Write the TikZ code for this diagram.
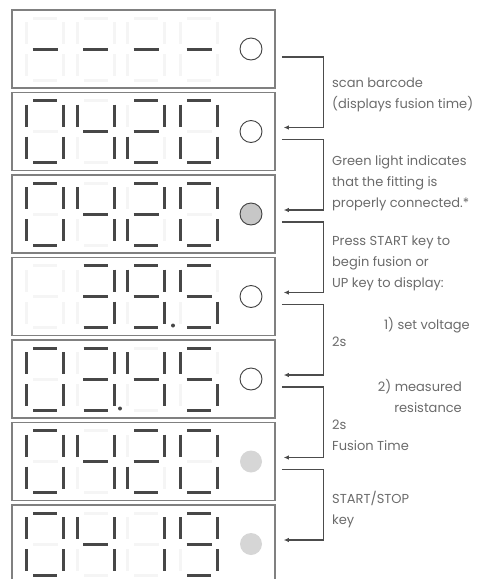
\documentclass[tikz,border=0pt]{standalone}
\usepackage{fontspec}
\setmainfont{Poppins}
\usetikzlibrary{arrows.meta}

% seven segment geometry, relative to the digit centre
\newcommand{\defseg}[2]{\expandafter\def\csname seg-#1\endcsname{#2}}
\defseg{a}{(-12,-31) -- (12,-31)}
\defseg{b}{(18.5,-27) -- (18.5,-5)}
\defseg{c}{(18.5,5) -- (18.5,27)}
\defseg{d}{(-12,31) -- (12,31)}
\defseg{e}{(-18.5,5) -- (-18.5,27)}
\defseg{f}{(-18.5,-27) -- (-18.5,-5)}
\defseg{g}{(-12.5,0) -- (12.5,0)}
\defseg{n}{(0,0)}
% lit segments of each symbol
\newcommand{\deflit}[2]{\expandafter\def\csname lit-#1\endcsname{#2}}
\deflit{0}{a,b,c,d,e,f}
\deflit{1}{b,c}
\deflit{2}{a,b,g,e,d}
\deflit{3}{a,b,g,c,d}
\deflit{4}{f,g,b,c}
\deflit{5}{a,f,g,c,d}
\deflit{9}{a,b,c,d,f,g}
\deflit{-}{g}
\deflit{x}{n}

\newcommand{\sevenseg}[3]{%
  \begin{scope}[shift={(#1,#2)}]
    \foreach \s in {a,b,c,d,e,f,g} \draw[ghost] \csname seg-\s\endcsname;
    \edef\seglist{\csname lit-#3\endcsname}
    \foreach \s in \seglist \draw[litseg] \csname seg-\s\endcsname;
  \end{scope}}

\begin{document}
\begin{tikzpicture}[
    x=1pt, y=-1pt,
    >={Latex[length=5pt,width=4.5pt]},
    panel/.style={draw=black!50, line width=1.5pt, minimum width=263pt, minimum height=78pt, inner sep=0pt},
    ghost/.style={draw=black!4, line width=3pt},
    litseg/.style={draw=black!72, line width=3pt},
    lamp/.style={circle, minimum size=22pt, inner sep=0pt},
    lamp off/.style={lamp, draw=black!75, line width=0.9pt, fill=white},
    lamp on/.style={lamp, draw=black!75, line width=0.9pt, fill=black!22},
    lamp dim/.style={lamp, fill=black!16},
    link/.style={->, draw=black!70, line width=1.2pt},
    note/.style={inner sep=0pt, text=black!58, font=\fontsize{13}{21}\selectfont},
]
\useasboundingbox (0,0) rectangle (477,579);

% display panels
\foreach \i/\da/\db/\dc/\dd/\state in {
    1/-/-/-/-/off, 2/0/4/2/0/off, 3/0/4/2/0/on, 4/x/3/9/5/off,
    5/0/3/4/5/off, 6/0/4/2/0/dim, 7/0/4/1/9/dim} {
  \pgfmathsetmacro{\cy}{49+82.5*(\i-1)}
  \node[panel] (box\i) at (143.5,\cy) {};
  \sevenseg{45}{\cy}{\da}
  \sevenseg{95.5}{\cy}{\db}
  \sevenseg{146}{\cy}{\dc}
  \sevenseg{199}{\cy}{\dd}
  \node[lamp \state] (lamp\i) at (251,\cy) {};
}

% decimal points
\fill[black!72] ([xshift=29.5pt,yshift=-29pt]box4.center) circle (2);
\fill[black!72] ([xshift=-23.5pt,yshift=-29.5pt]box5.center) circle (2);

% steps
\foreach \i [evaluate=\i as \j using int(\i+1)] in {1,...,6}
  \draw[link] ([xshift=6pt,yshift=-8pt]box\i.east) -- ++(42,0) |- ([xshift=8pt,yshift=4pt]box\j.east);

% annotations
\node[note, anchor=north west, align=left] (scan) at (332,78) {scan barcode\\(displays fusion time)};
\node[note, anchor=north west, align=left] (green) at (332,155) {Green light indicates\\that the fitting is\\properly connected.*};
\node[note, anchor=north west, align=left] (press) at (332,236) {Press START key to\\begin fusion or\\UP key to display:};
\node[note, anchor=north east] (volt) at (470,317) {1) set voltage};
\node[note, anchor=north west] (wait1) at (332,337) {2s};
\node[note, anchor=north east, align=right] (resist) at (462,379) {2) measured\\resistance};
\node[note, anchor=north west, align=left] (wait2) at (332,420) {2s\\Fusion Time};
\node[note, anchor=north west, align=left] (stop) at (332,491) {START/STOP\\key};
\end{tikzpicture}
\end{document}
